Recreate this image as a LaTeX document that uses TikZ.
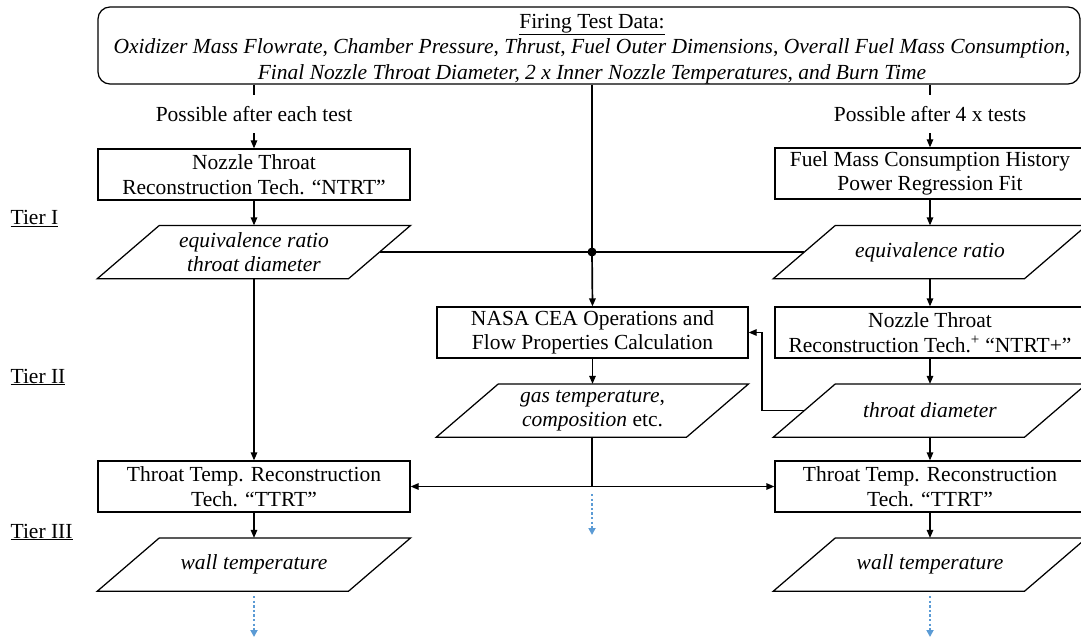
\documentclass[tikz,border=0pt]{standalone}
\usepackage{fontspec}
\setmainfont{Liberation Serif}
\usetikzlibrary{arrows.meta,calc}
\definecolor{dotblue}{RGB}{91,155,213}
\newcommand\drawpara[1]{\draw (#1.south west) -- ($(#1.south east)+(-62,0)$) -- (#1.north east) -- ($(#1.north west)+(62,0)$) -- cycle;}
\begin{document}
\begin{tikzpicture}[x=1pt,y=-1pt,
  font=\fontsize{21.5}{24.5}\selectfont,
  line width=1.25pt,
  box/.style={draw, minimum width=312pt, minimum height=51pt, inner sep=0pt, align=center},
  para/.style={minimum width=312pt, minimum height=52pt, inner sep=0pt, align=center},
  lab/.style={minimum height=37pt, inner sep=0pt, align=center},
  arr/.style={-{Triangle[length=8pt,width=6.5pt]}},
  darr/.style={{Triangle[length=8pt,width=6.5pt]}-{Triangle[length=8pt,width=6.5pt]}},
  contd/.style={draw=dotblue, line width=2.4pt, dash pattern=on 2.4pt off 2.2pt, -{Triangle[length=7pt,width=7pt,fill=dotblue]}}
]
\useasboundingbox (0,0) rectangle (1081,639);

% top box
\node[draw, rounded corners=12pt, minimum width=982pt, minimum height=77pt, inner sep=0pt] (top) at (589,45.5) {};
\node[inner sep=0pt, align=center, font=\fontsize{21.5}{25.5}\selectfont] (toptext) at (592,49)
  {\underline{Firing Test Data:}\\
   \textit{Oxidizer Mass Flowrate}, \textit{Chamber Pressure}, \textit{Thrust}, \textit{Fuel Outer Dimensions}, \textit{Overall Fuel Mass Consumption},\\
   \textit{Final Nozzle Throat Diameter, 2 x Inner Nozzle Temperatures, and Burn Time}};

% tier labels
\node[anchor=base west, inner sep=0pt] (t1) at (10,225) {\underline{Tier I}};
\node[anchor=base west, inner sep=0pt] (t2) at (10,383) {\underline{Tier II}};
\node[anchor=base west, inner sep=0pt] (t3) at (10,538) {\underline{Tier III}};

% left column
\node[lab] (lab1) at (254,114) {Possible after each test};
\node[box] (ntrt) at (254,174.5) {Nozzle Throat\\Reconstruction Tech. “NTRT”};
\node[para] (lpara) at (254,252) {\itshape equivalence ratio\\\itshape throat diameter};
\drawpara{lpara}
\node[box] (lttrt) at (254,486.5) {Throat Temp. Reconstruction\\Tech. “TTRT”};
\node[para] (lwall) at (254,564.5) {\itshape wall temperature};
\drawpara{lwall}

% right column
\node[lab] (lab2) at (930,114) {Possible after 4 x tests};
\node[box, minimum width=310pt] (fmc) at (930,173.5) {Fuel Mass Consumption History\\Power Regression Fit};
\node[para] (rpara) at (930,252) {\itshape equivalence ratio};
\drawpara{rpara}
\node[box, minimum width=310pt] (ntrtp) at (930,332.5) {Nozzle Throat\\Reconstruction Tech.\textsuperscript{+} “NTRT+”};
\node[para] (rthroat) at (930,410.5) {\itshape throat diameter};
\drawpara{rthroat}
\node[box, minimum width=310pt] (rttrt) at (930,486.5) {Throat Temp. Reconstruction\\Tech. “TTRT”};
\node[para] (rwall) at (930,564.5) {\itshape wall temperature};
\drawpara{rwall}

% centre column
\coordinate (j) at (592,252);
\node[box, minimum width=311pt] (cea) at (592.5,332.5) {NASA CEA Operations and\\Flow Properties Calculation};
\node[para, minimum width=311pt] (gas) at (592.5,410.5) {\textit{gas temperature},\\\textit{composition} etc.};
\drawpara{gas}
\coordinate (gj) at (592,486.5);

% connectors
\draw (top.south -| lab1.north) -- (lab1.north);
\draw[arr] (lab1.south) -- (ntrt.north);
\draw[arr] (ntrt.south) -- (lpara.north);
\draw[arr] (lpara.south) -- (lttrt.north);
\draw[arr] (lttrt.south) -- (lwall.north);

\draw (top.south -| lab2.north) -- (lab2.north);
\draw[arr] (lab2.south) -- (fmc.north);
\draw[arr] (fmc.south) -- (rpara.north);
\draw[arr] (rpara.south) -- (ntrtp.north);
\draw[arr] (ntrtp.south) -- (rthroat.north);
\draw[arr] (rthroat.south) -- (rttrt.north);
\draw[arr] (rttrt.south) -- (rwall.north);

\draw ($(lpara.east)+(-31,0)$) -- (j) -- ($(rpara.west)+(31,0)$);
\draw (top.south -| j) -- (j);
\fill (j) circle (4.5pt);
\draw[arr, line width=1.7pt] (j) -- (cea.north);
\draw[arr] (cea.south) -- (gas.north);
\draw (gas.south -| gj) -- (gj);
\draw[darr] (lttrt.east) -- (rttrt.west);
\draw[arr] ($(rthroat.west)+(31,0)$) -| (762,332.5) -- (cea.east);

% continuation arrows
\draw[contd] (254,596) -- (254,637);
\draw[contd] (930,596) -- (930,637);
\draw[contd] (592,494) -- (592,535);
\end{tikzpicture}
\end{document}
